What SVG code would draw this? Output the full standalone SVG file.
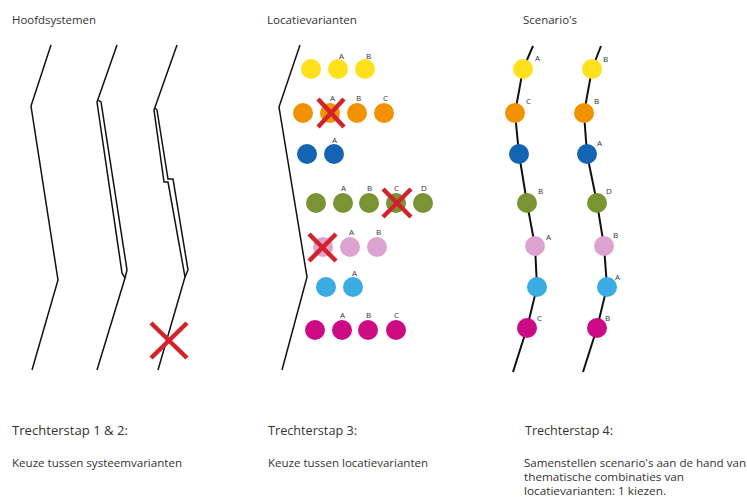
<svg xmlns="http://www.w3.org/2000/svg" width="747" height="501" viewBox="0 0 747 501">
<style>
  .t { font-family: "Open Sans", "Liberation Sans", sans-serif; fill: #333; }
  .title { font-size: 11.5px; }
  .head { font-size: 12.5px; }
  .body { font-size: 10.5px; }
  .body3 { font-size: 11px; }
  .lbl { font-family: "Open Sans", "Liberation Sans", sans-serif; font-size: 8px; fill: #333; }
  .ln { fill: none; stroke: #111; stroke-width: 1.5; stroke-linejoin: miter; }
  .sl { fill: none; stroke: #111; stroke-width: 2; }
  .x { stroke: #d2232a; stroke-width: 4.5; }
  .y { fill: #ffe01a; }
  .o { fill: #f39200; }
  .b { fill: #1464b4; }
  .g { fill: #7a9433; }
  .p { fill: #dda3d0; }
  .c { fill: #3aace2; }
  .m { fill: #cc0a84; }
</style>
<rect width="747" height="501" fill="#fff"/>

<text class="t title" x="12" y="24" textLength="84" lengthAdjust="spacingAndGlyphs">Hoofdsystemen</text>
<text class="t title" x="267" y="24" textLength="90" lengthAdjust="spacingAndGlyphs">Locatievarianten</text>
<text class="t title" x="523" y="24" textLength="54" lengthAdjust="spacingAndGlyphs">Scenario's</text>

<g id="hoofdsystemen">
  <path class="ln" d="M51,45 L31,106 L58,280 L32,370"/>
  <path class="ln" d="M117,45 L97,102 L122,273 L125,278 L97,370"/>
  <path class="ln" d="M98,100 L101,102 L127,270 L125,278"/>
  <path class="ln" d="M177,45 L154,110 L164,182 L168,182 L185,277 L158,370"/>
  <path class="ln" d="M155,108 L157,110 L168,179 L173,179 L188,270 L185,277"/>
  <g id="x-systeem">
    <line class="x" x1="151" y1="323" x2="187" y2="358"/>
    <line class="x" x1="187" y1="323" x2="151" y2="358"/>
  </g>
</g>

<g id="locatievarianten">
  <path class="ln" d="M300,45 L279,107 L307,277 L282,370"/>
  <g id="rij-geel">
    <circle class="y" cx="311" cy="69" r="10"/>
    <circle class="y" cx="338" cy="69" r="10"/>
    <circle class="y" cx="365" cy="69" r="10"/>
    <text class="lbl" x="339" y="59">A</text>
    <text class="lbl" x="366" y="59">B</text>
  </g>
  <g id="rij-oranje">
    <circle class="o" cx="303" cy="113" r="10"/>
    <circle class="o" cx="330" cy="113" r="10"/>
    <circle class="o" cx="357" cy="113" r="10"/>
    <circle class="o" cx="384" cy="113" r="10"/>
    <text class="lbl" x="330" y="101">A</text>
    <text class="lbl" x="356" y="101">B</text>
    <text class="lbl" x="383" y="101">C</text>
    <line class="x" x1="318" y1="99" x2="344" y2="127"/>
    <line class="x" x1="344" y1="99" x2="318" y2="127"/>
  </g>
  <g id="rij-blauw">
    <circle class="b" cx="307" cy="154" r="10"/>
    <circle class="b" cx="334" cy="154" r="10"/>
    <text class="lbl" x="332" y="143">A</text>
  </g>
  <g id="rij-groen">
    <circle class="g" cx="316" cy="203" r="10"/>
    <circle class="g" cx="343" cy="203" r="10"/>
    <circle class="g" cx="369" cy="203" r="10"/>
    <circle class="g" cx="396" cy="203" r="10"/>
    <circle class="g" cx="423" cy="203" r="10"/>
    <text class="lbl" x="341" y="191">A</text>
    <text class="lbl" x="367" y="191">B</text>
    <text class="lbl" x="394" y="191">C</text>
    <text class="lbl" x="421" y="191">D</text>
    <line class="x" x1="383" y1="189" x2="411" y2="217"/>
    <line class="x" x1="411" y1="189" x2="383" y2="217"/>
  </g>
  <g id="rij-roze">
    <circle class="p" cx="323" cy="247" r="10"/>
    <circle class="p" cx="350" cy="247" r="10"/>
    <circle class="p" cx="377" cy="247" r="10"/>
    <text class="lbl" x="349" y="235">A</text>
    <text class="lbl" x="376" y="235">B</text>
    <line class="x" x1="309" y1="234" x2="336" y2="261"/>
    <line class="x" x1="336" y1="234" x2="309" y2="261"/>
  </g>
  <g id="rij-lichtblauw">
    <circle class="c" cx="326" cy="287" r="10"/>
    <circle class="c" cx="353" cy="287" r="10"/>
    <text class="lbl" x="352" y="276">A</text>
  </g>
  <g id="rij-magenta">
    <circle class="m" cx="315" cy="330" r="10"/>
    <circle class="m" cx="342" cy="330" r="10"/>
    <circle class="m" cx="368" cy="330" r="10"/>
    <circle class="m" cx="396" cy="330" r="10"/>
    <text class="lbl" x="340" y="318">A</text>
    <text class="lbl" x="366" y="318">B</text>
    <text class="lbl" x="394" y="318">C</text>
  </g>
</g>

<g id="scenarios">
  <g id="scenario-1">
    <path class="sl" d="M533,46 L523,69 L515,113 L519,154 L527,203 L535,246 L537,287 L527,328 L513,372"/>
    <circle class="y" cx="523" cy="69" r="10"/>
    <circle class="o" cx="515" cy="113" r="10"/>
    <circle class="b" cx="519" cy="154" r="10"/>
    <circle class="g" cx="527" cy="203" r="10"/>
    <circle class="p" cx="535" cy="246" r="10"/>
    <circle class="c" cx="537" cy="287" r="10"/>
    <circle class="m" cx="527" cy="328" r="10"/>
    <text class="lbl" x="535" y="61">A</text>
    <text class="lbl" x="526" y="104">C</text>
    <text class="lbl" x="538" y="194">B</text>
    <text class="lbl" x="546" y="240">A</text>
    <text class="lbl" x="537" y="321">C</text>
  </g>
  <g id="scenario-2">
    <path class="sl" d="M601,46 L592,69 L584,113 L587,154 L597,203 L604,246 L607,287 L597,328 L583,372"/>
    <circle class="y" cx="592" cy="69" r="10"/>
    <circle class="o" cx="584" cy="113" r="10"/>
    <circle class="b" cx="587" cy="154" r="10"/>
    <circle class="g" cx="597" cy="203" r="10"/>
    <circle class="p" cx="604" cy="246" r="10"/>
    <circle class="c" cx="607" cy="287" r="10"/>
    <circle class="m" cx="597" cy="328" r="10"/>
    <text class="lbl" x="603" y="62">B</text>
    <text class="lbl" x="594" y="104">B</text>
    <text class="lbl" x="597" y="146">A</text>
    <text class="lbl" x="606" y="194">D</text>
    <text class="lbl" x="613" y="238">B</text>
    <text class="lbl" x="615" y="280">A</text>
    <text class="lbl" x="605" y="321">B</text>
  </g>
</g>

<g id="captions">
  <text class="t head" x="12" y="435" textLength="116" lengthAdjust="spacingAndGlyphs">Trechterstap 1 &amp; 2:</text>
  <text class="t body" x="12" y="467" textLength="170" lengthAdjust="spacingAndGlyphs">Keuze tussen systeemvarianten</text>
  <text class="t head" x="268" y="435" textLength="89" lengthAdjust="spacingAndGlyphs">Trechterstap 3:</text>
  <text class="t body" x="268" y="467" textLength="160" lengthAdjust="spacingAndGlyphs">Keuze tussen locatievarianten</text>
  <text class="t head" x="525" y="435" textLength="88" lengthAdjust="spacingAndGlyphs">Trechterstap 4:</text>
  <text class="t body3" x="524" y="467" textLength="222" lengthAdjust="spacingAndGlyphs">Samenstellen scenario's aan de hand van</text>
  <text class="t body3" x="524" y="481" textLength="160" lengthAdjust="spacingAndGlyphs">thematische combinaties van</text>
  <text class="t body3" x="524" y="495" textLength="142" lengthAdjust="spacingAndGlyphs">locatievarianten: 1 kiezen.</text>
</g>
</svg>
